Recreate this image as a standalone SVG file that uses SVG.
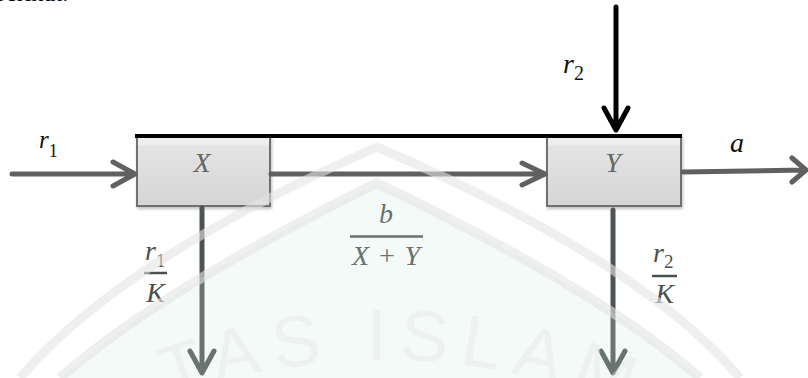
<svg xmlns="http://www.w3.org/2000/svg" width="808" height="378" viewBox="0 0 808 378">
  <defs>
    <linearGradient id="boxFill" x1="0" y1="0" x2="0" y2="1">
      <stop offset="0" stop-color="#f0f0f0"/>
      <stop offset="0.14" stop-color="#ececec"/>
      <stop offset="0.16" stop-color="#e4e4e4"/>
      <stop offset="1" stop-color="#d5d5d5"/>
    </linearGradient>
    <filter id="shadow" x="-10%" y="-10%" width="120%" height="130%">
      <feDropShadow dx="1" dy="2" stdDeviation="1.5" flood-color="#000" flood-opacity="0.25"/>
    </filter>
    <path id="wmArc" d="M 85 436.7 A 625 625 0 0 1 685 436.7"/>
  </defs>
  <style>
    .box { fill: url(#boxFill); stroke: #707070; stroke-width: 2; filter: url(#shadow); }
    .top { stroke: #000; stroke-width: 4; stroke-linecap: butt; }
    .conn { fill: none; stroke: #606060; stroke-width: 5; stroke-linecap: round; stroke-linejoin: round; }
    .dark { stroke: #4e5450; }
    .black { stroke: #000; }
    .math { font-family: "Liberation Serif", "DejaVu Serif", serif; font-style: italic; }
    .sub { font-style: normal; }
    .boxlbl { fill: #666; font-size: 28px; }
    .lbl { fill: #111; }
    .frac { fill: #4a524e; font-size: 28px; }
    .bar { stroke: #4a524e; stroke-width: 2.5; }
    .body { font-family: "Liberation Serif", serif; font-size: 24px; fill: #000; }
  </style>

  <rect x="0" y="0" width="808" height="378" fill="#fff"/>

  <!-- cropped body text line at the very top -->
  <text class="body" x="-6" y="1">berikut:</text>

  <!-- nodes -->
  <g id="node-X">
    <rect class="box" x="137" y="135" width="133" height="71"/>
    <text class="math boxlbl" x="202" y="172" text-anchor="middle">X</text>
  </g>
  <g id="node-Y">
    <rect class="box" x="547" y="135" width="134" height="71"/>
    <text class="math boxlbl" x="613" y="172" text-anchor="middle">Y</text>
  </g>

  <!-- connectors -->
  <g id="connectors">
    <line class="top" x1="135" y1="136" x2="682" y2="136"/>
    <!-- r1 inflow -->
    <path class="conn" d="M 12 174 L 134 174 M 113 162 L 135 174 L 113 186"/>
    <!-- X to Y -->
    <path class="conn" d="M 271 174 L 544 174 M 522 163 L 545 174 L 522 185"/>
    <!-- outflow a -->
    <path class="conn" d="M 683 172 L 804 170 M 792 158 L 806 170 L 792 182"/>
    <!-- r2 inflow -->
    <path class="conn black" d="M 616 7 L 616 129 M 604 108 L 616 130 L 628 108"/>
    <!-- X outflow down -->
    <path class="conn dark" d="M 202 208 L 202 372 M 190 351 L 202 373 L 214 351"/>
    <!-- Y outflow down -->
    <path class="conn dark" d="M 613 210 L 613 372 M 601 351 L 613 373 L 625 351"/>
  </g>

  <!-- connector labels -->
  <g id="labels">
    <text class="math lbl" x="39" y="148" font-size="25">r<tspan class="sub" font-size="18" dy="9">1</tspan></text>
    <text class="math lbl" x="563" y="73" font-size="28">r<tspan class="sub" font-size="20" dy="7">2</tspan></text>
    <text class="math lbl" x="737" y="152" font-size="28" text-anchor="middle">a</text>

    <text class="math frac" x="386" y="223" text-anchor="middle">b</text>
    <line class="bar" x1="350" y1="236.5" x2="423" y2="236.5"/>
    <text class="math frac" x="386" y="265" text-anchor="middle" textLength="68">X + Y</text>

    <text class="math frac" x="145" y="260">r<tspan class="sub" font-size="19" dy="7">1</tspan></text>
    <line class="bar" x1="144" y1="273" x2="167" y2="273"/>
    <text class="math frac" x="155.5" y="302" text-anchor="middle">K</text>

    <text class="math frac" x="653" y="262">r<tspan class="sub" font-size="19" dy="6">2</tspan></text>
    <line class="bar" x1="652" y1="276" x2="677" y2="276"/>
    <text class="math frac" x="664.5" y="303" text-anchor="middle">K</text>
  </g>

  <!-- faint watermark overlay -->
  <g id="watermark">
    <path d="M 60 378 Q 160 290 377 183 Q 600 290 700 378 Z" fill="#cfe9db" opacity="0.22"/>
    <path d="M 20 378 Q 120 260 377 147 Q 640 260 740 378" fill="none" stroke="#e4e4e4" stroke-width="9" opacity="0.6"/>
    <path d="M 60 378 Q 160 290 377 183 Q 600 290 700 378" fill="none" stroke="#e4e4e4" stroke-width="10" opacity="0.6"/>
    <text font-family="Liberation Sans, Arial, sans-serif" font-size="72" fill="#e6e8e7" opacity="0.45" letter-spacing="12"><textPath href="#wmArc" startOffset="92">TAS ISLAM</textPath></text>
  </g>
</svg>
